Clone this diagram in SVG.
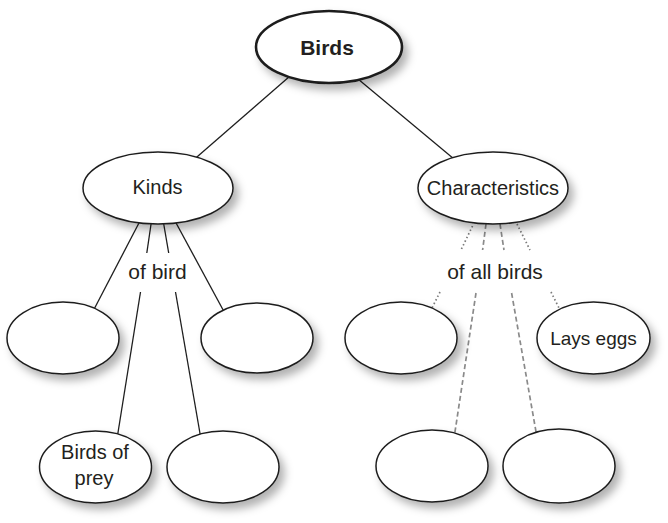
<svg xmlns="http://www.w3.org/2000/svg" width="668" height="523" viewBox="0 0 668 523">
<style>
  .node ellipse { fill: #fff; stroke: #1e1e1e; stroke-width: 1.5; filter: url(#sh); }
  .root ellipse { stroke-width: 2.6; }
  text { font-family: "Liberation Sans", Arial, sans-serif; fill: #231f20; text-anchor: middle; }
  .lbl { font-size: 20px; }
  .small { font-size: 19px; }
  .link { font-size: 21px; }
  .solid { stroke: #1e1e1e; stroke-width: 1.3; fill: none; }
  .dot { stroke: #7a7a7a; stroke-width: 1.7; stroke-dasharray: 1.5 2.5; fill: none; }
  .dash { stroke: #8a8a8a; stroke-width: 1.7; stroke-dasharray: 5 3; fill: none; }
</style>
<defs>
  <filter id="sh" x="-20%" y="-20%" width="150%" height="160%">
    <feDropShadow dx="5" dy="6" stdDeviation="4" flood-color="#000" flood-opacity="0.3"/>
  </filter>
</defs>
<rect width="668" height="523" fill="#fff"/>
<g id="connectors">
  <line class="solid" x1="293.5" y1="73" x2="190" y2="163"/>
  <line class="solid" x1="352" y1="74" x2="460" y2="164"/>
  <line class="solid" x1="140" y1="221" x2="90" y2="317"/>
  <line class="solid" x1="151.5" y1="221" x2="146.8" y2="253"/>
  <line class="solid" x1="140.5" y1="292" x2="116" y2="445"/>
  <line class="solid" x1="163.2" y1="221" x2="168.7" y2="253"/>
  <line class="solid" x1="175.5" y1="292" x2="202" y2="445"/>
  <line class="solid" x1="175" y1="221" x2="228" y2="319"/>
  <line class="dot" x1="472.5" y1="226" x2="461" y2="250"/>
  <line class="dot" x1="440" y1="292" x2="427" y2="318"/>
  <line class="dash" x1="486" y1="224" x2="482.6" y2="250"/>
  <line class="dash" x1="476" y1="293" x2="453" y2="445"/>
  <line class="dash" x1="500" y1="224" x2="504" y2="250"/>
  <line class="dash" x1="511.6" y1="293" x2="538" y2="443"/>
  <line class="dot" x1="517" y1="224" x2="530" y2="250"/>
  <line class="dot" x1="551" y1="292" x2="562" y2="314"/>
  <text class="link" x="157.5" y="279">of bird</text>
  <text class="link" x="495" y="279">of all birds</text>
</g>
<g id="birds" class="node root">
  <ellipse cx="329" cy="47" rx="73" ry="36"/>
  <text x="327" y="55" style="font-size:21px;font-weight:bold">Birds</text>
</g>
<g id="kinds" class="node">
  <ellipse cx="158" cy="188" rx="75" ry="36"/>
  <text class="lbl" x="157.5" y="194">Kinds</text>
</g>
<g id="characteristics" class="node">
  <ellipse cx="493" cy="188" rx="75" ry="36"/>
  <text class="lbl" x="493" y="195">Characteristics</text>
</g>
<g id="kind1" class="node">
  <ellipse cx="63" cy="338" rx="56" ry="36"/>
</g>
<g id="kind2" class="node">
  <ellipse cx="257" cy="338" rx="56" ry="35"/>
</g>
<g id="birds-of-prey" class="node">
  <ellipse cx="95.5" cy="467" rx="56" ry="36"/>
  <text class="lbl" x="95" y="459">Birds of</text>
  <text class="lbl" x="94" y="485">prey</text>
</g>
<g id="kind4" class="node">
  <ellipse cx="223" cy="467" rx="56" ry="36"/>
</g>
<g id="char1" class="node">
  <ellipse cx="401" cy="338" rx="56" ry="36"/>
</g>
<g id="lays-eggs" class="node">
  <ellipse cx="593.5" cy="338" rx="56.5" ry="36"/>
  <text class="small" x="593.5" y="345">Lays eggs</text>
</g>
<g id="char3" class="node">
  <ellipse cx="432" cy="466" rx="56" ry="36"/>
</g>
<g id="char4" class="node">
  <ellipse cx="559" cy="466" rx="56" ry="37"/>
</g>
</svg>
